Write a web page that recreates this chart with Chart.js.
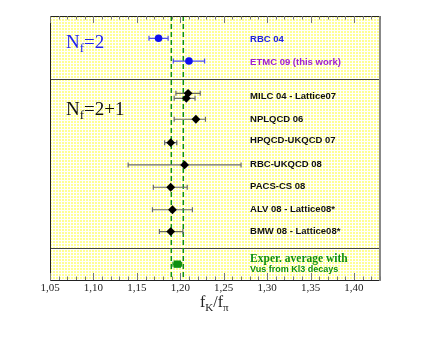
<!DOCTYPE html>
<html><head><meta charset="utf-8">
<script src="https://cdn.jsdelivr.net/npm/chart.js@4/dist/chart.umd.min.js"></script>
<style>html,body{margin:0;padding:0;background:#fff}#c{display:block}</style>
</head><body>
<canvas id="c" width="440" height="340"></canvas>
<script>
// ---- data ----
const nf2Labels = ['RBC 04', 'ETMC 09 (this work)'];
const nf2Values = [1.175, 1.210];
const nf2ErrLo  = [0.011, 0.018];
const nf2ErrHi  = [0.011, 0.018];
const nf2Rows   = [1.0, 2.02];
const nf2LabelColors = ['#2222dd', '#a020d0'];

const nf21Labels = ['MILC 04 - Lattice07', '', 'NPLQCD 06', 'HPQCD-UKQCD 07', 'RBC-UKQCD 08', 'PACS-CS 08', 'ALV 08 - Lattice08*', 'BMW 08 - Lattice08*'];
const nf21Values = [1.209, 1.207, 1.218, 1.189, 1.205, 1.189, 1.191, 1.189];
const nf21ErrLo  = [0.014, 0.014, 0.025, 0.007, 0.065, 0.020, 0.023, 0.013];
const nf21ErrHi  = [0.014, 0.010, 0.011, 0.007, 0.065, 0.019, 0.023, 0.014];
const nf21Rows   = [3.47, 3.69, 4.63, 5.68, 6.68, 7.68, 8.69, 9.67];

const expValue = [1.1966];
const expErr   = [0.005];
const expRow   = [11.13];
const bandEdges = [1.1897, 1.2035];
const separators = [2.83, 10.41];

const xTicks = [1.05, 1.10, 1.15, 1.20, 1.25, 1.30, 1.35, 1.40];
const xMin = 1.05, xMax = 1.43;
const yMin = 0, yMax = 11.84;

// ---- plugin ----
const deco = {
  id: 'deco',
  beforeDatasetsDraw(chart){
    const {ctx, chartArea: a, scales:{x, y}} = chart;
    ctx.save();
    // yellow mesh background
    ctx.fillStyle = '#ffff94';
    ctx.fillRect(a.left, a.top, a.right - a.left, a.bottom - a.top);
    ctx.fillStyle = '#ffffff';
    for (let px = a.left + 2; px < a.right; px += 3) ctx.fillRect(px, a.top, 1, a.bottom - a.top);
    for (let py = a.top + 2; py < a.bottom; py += 3) ctx.fillRect(a.left, py, a.right - a.left, 1);
    // separators
    ctx.strokeStyle = '#444'; ctx.lineWidth = 1;
    separators.forEach(r => {
      const py = Math.round(y.getPixelForValue(r)) + 0.5;
      ctx.beginPath(); ctx.moveTo(a.left, py); ctx.lineTo(a.right, py); ctx.stroke();
    });
    // band dashed lines
    ctx.strokeStyle = '#109010'; ctx.lineWidth = 1.5; ctx.setLineDash([5, 3]);
    bandEdges.forEach(v => {
      const px = x.getPixelForValue(v);
      ctx.beginPath(); ctx.moveTo(px, a.top); ctx.lineTo(px, a.bottom); ctx.stroke();
    });
    ctx.setLineDash([]);
    // error bars
    function bars(vals, lo, hi, rows, color){
      ctx.strokeStyle = color; ctx.lineWidth = 1.2;
      vals.forEach((v, i) => {
        const py = y.getPixelForValue(rows[i]);
        const x1 = x.getPixelForValue(v - lo[i]), x2 = x.getPixelForValue(v + hi[i]);
        ctx.beginPath(); ctx.moveTo(x1, py); ctx.lineTo(x2, py);
        ctx.moveTo(x1, py - 2.5); ctx.lineTo(x1, py + 2.5);
        ctx.moveTo(x2, py - 2.5); ctx.lineTo(x2, py + 2.5);
        ctx.stroke();
      });
    }
    bars(nf2Values, nf2ErrLo, nf2ErrHi, nf2Rows, '#4d4dee');
    bars(nf21Values, nf21ErrLo, nf21ErrHi, nf21Rows, '#6a6a6a');
    bars(expValue, expErr, expErr, expRow, '#109010');
    ctx.restore();
  },
  afterDatasetsDraw(chart){
    const {ctx, chartArea: a, scales:{x, y}} = chart;
    ctx.save();
    // frame
    ctx.lineWidth = 1; ctx.strokeStyle = '#222';
    ctx.beginPath();
    ctx.moveTo(a.right, a.top + 0.5); ctx.lineTo(a.left + 0.5, a.top + 0.5);
    ctx.lineTo(a.left + 0.5, a.bottom + 0.5); ctx.lineTo(a.right, a.bottom + 0.5);
    ctx.stroke();
    ctx.strokeStyle = '#888'; ctx.lineWidth = 2;
    ctx.beginPath(); ctx.moveTo(a.right, a.top); ctx.lineTo(a.right, a.bottom + 1); ctx.stroke();
    // ticks
    ctx.strokeStyle = '#777'; ctx.lineWidth = 1;
    for (let k = 0; k <= Math.round((xMax - xMin) / 0.01); k++) {
      const v = xMin + k * 0.01;
      const px = Math.round(x.getPixelForValue(v)) + 0.5;
      const major = k % 5 === 0;
      const len = major ? 7 : 3.5;
      ctx.beginPath();
      ctx.moveTo(px, a.bottom); ctx.lineTo(px, a.bottom - len);
      ctx.moveTo(px, a.top); ctx.lineTo(px, a.top + len);
      ctx.stroke();
    }
    // tick labels
    ctx.fillStyle = '#222'; ctx.font = '11px "Liberation Serif", serif';
    ctx.textAlign = 'center'; ctx.textBaseline = 'middle';
    xTicks.forEach(v => ctx.fillText(v.toFixed(2).replace('.', ','), x.getPixelForValue(v), a.bottom + 8.5));
    // axis title f_K / f_pi
    ctx.textAlign = 'left'; ctx.textBaseline = 'alphabetic';
    let tx = 200, ty = a.bottom + 27;
    const big = '16px "Liberation Serif", serif', small = '11px "Liberation Serif", serif';
    ctx.font = big; ctx.fillText('f', tx, ty); tx += ctx.measureText('f').width;
    ctx.font = small; ctx.fillText('K', tx, ty + 4); tx += ctx.measureText('K').width;
    ctx.font = big; ctx.fillText('/f', tx, ty); tx += ctx.measureText('/f').width;
    ctx.font = small; ctx.fillText('π', tx, ty + 4);
    // group labels
    function nf(txt, row, color){
      let gx = x.getPixelForValue(1.0684), gy = y.getPixelForValue(row);
      ctx.fillStyle = color;
      ctx.font = '19px "Liberation Serif", serif'; ctx.fillText('N', gx, gy); gx += ctx.measureText('N').width;
      ctx.font = '13px "Liberation Serif", serif'; ctx.fillText('f', gx, gy + 4); gx += ctx.measureText('f').width;
      ctx.font = '19px "Liberation Serif", serif'; ctx.fillText(txt, gx, gy);
    }
    nf('=2', 1.43, '#2222ee');
    nf('=2+1', 4.44, '#111');
    // series labels
    ctx.font = 'bold 9.5px "Liberation Sans", Arial, sans-serif'; ctx.textBaseline = 'middle';
    const lx = x.getPixelForValue(1.2804);
    nf2Labels.forEach((t, i) => { ctx.fillStyle = nf2LabelColors[i]; ctx.fillText(t, lx, y.getPixelForValue(nf2Rows[i] + 0.07)); });
    ctx.fillStyle = '#111';
    const labelRows = [3.62, 0, 4.62, 5.6, 6.64, 7.64, 8.66, 9.66];
    nf21Labels.forEach((t, i) => { if (t) ctx.fillText(t, lx, y.getPixelForValue(labelRows[i])); });
    ctx.fillStyle = '#109010';
    ctx.font = 'bold 11.5px "Liberation Serif", serif';
    ctx.fillText('Exper. average with', lx, y.getPixelForValue(10.9));
    ctx.font = 'bold 9px "Liberation Sans", Arial, sans-serif';
    ctx.fillText('Vus from Kl3 decays', lx, y.getPixelForValue(11.36));
    ctx.restore();
  }
};

new Chart(document.getElementById('c'), {
  type: 'scatter',
  data: {
    datasets: [
      { data: nf2Values.map((v, i) => ({x: v, y: nf2Rows[i]})), pointStyle: 'circle', pointRadius: 3.8,
        backgroundColor: '#1010f0', borderColor: '#1010f0', borderWidth: 0 },
      { data: nf21Values.map((v, i) => ({x: v, y: nf21Rows[i]})), pointStyle: 'rectRot', pointRadius: 4.4,
        backgroundColor: '#000', borderColor: '#000', borderWidth: 0 },
      { data: expValue.map((v, i) => ({x: v, y: expRow[i]})), pointStyle: 'rect', pointRadius: 5.2,
        backgroundColor: '#109010', borderColor: '#109010', borderWidth: 0 }
    ]
  },
  options: {
    responsive: false, animation: false,
    layout: { padding: { left: 50, right: 60, top: 16, bottom: 60 } },
    plugins: { legend: { display: false }, tooltip: { enabled: false } },
    scales: {
      x: { type: 'linear', min: xMin, max: xMax, display: false },
      y: { type: 'linear', min: yMin, max: yMax, reverse: true, display: false }
    }
  },
  plugins: [deco]
});
</script>
</body></html>
